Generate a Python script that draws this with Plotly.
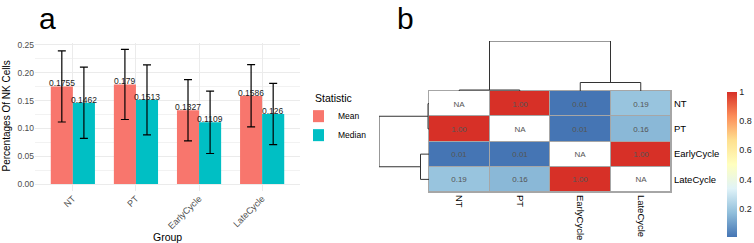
import plotly.graph_objects as go

W, H = 754, 243
FONT = "Liberation Sans, Arial, Helvetica, sans-serif"

# ---------------- data: panel a ----------------
groups = ["NT", "PT", "EarlyCycle", "LateCycle"]
mean_vals = [0.1755, 0.179, 0.1327, 0.1586]
median_vals = [0.1462, 0.1513, 0.1109, 0.126]
mean_err = [0.064, 0.063, 0.055, 0.056]
median_err = [0.064, 0.063, 0.056, 0.055]
y_ticks = [0.00, 0.05, 0.10, 0.15, 0.20, 0.25]

# ---------------- data: panel b ----------------
hm_labels = ["NT", "PT", "EarlyCycle", "LateCycle"]
hm_values = [
    [None, 1.00, 0.01, 0.19],
    [1.00, None, 0.01, 0.16],
    [0.01, 0.01, None, 1.00],
    [0.19, 0.16, 1.00, None],
]
# dendrogram merges: (left node, right node, height); leaves 0..3, new nodes 4,5,...
dendro_merges = [(0, 1, 0.02), (2, 3, 0.17), (4, 5, 1.0)]
cbar_ticks = [0.2, 0.4, 0.6, 0.8, 1.0]
cbar_ticktext = ["0.2", "0.4", "0.6", "0.8", "1"]

rdylbu7 = ["#4575B4", "#91BFDB", "#E0F3F8", "#FFFFBF", "#FEE090", "#FC8D59", "#D73027"]
colorscale = [[i / 6, c] for i, c in enumerate(rdylbu7)]


def px_x(p):
    return p / W


def px_y(p):
    return 1 - p / H


fig = go.Figure()

# ---- bars ----
fig.add_trace(go.Bar(
    x=groups, y=mean_vals, name="Mean", marker=dict(color="#F8766D", line=dict(width=0)),
    error_y=dict(type="data", array=mean_err, color="black", thickness=1.2, width=4),
    xaxis="x", yaxis="y"))
fig.add_trace(go.Bar(
    x=groups, y=median_vals, name="Median", marker=dict(color="#00BFC4", line=dict(width=0)),
    error_y=dict(type="data", array=median_err, color="black", thickness=1.2, width=4),
    xaxis="x", yaxis="y"))

# value labels (placed at each bar top through the axes)
bar_labels = []
for vals, shift in ((mean_vals, -11), (median_vals, 11)):
    for g, v in zip(groups, vals):
        bar_labels.append(dict(
            x=g, y=v, xref="x", yref="y", text=str(v), showarrow=False,
            xanchor="center", yanchor="bottom", xshift=shift, yshift=-4,
            font=dict(size=8.5, color="#1a1a1a", family=FONT)))

# ---- heatmap (border layer, white layer, values) ----
n = len(hm_labels)
idx = list(range(n))
fig.add_trace(go.Heatmap(
    z=[[1] * n for _ in idx], x=idx, y=idx, colorscale=[[0, "#A6A6A6"], [1, "#A6A6A6"]],
    showscale=False, hoverinfo="skip", xaxis="x2", yaxis="y2"))
fig.add_trace(go.Heatmap(
    z=[[1] * n for _ in idx], x=idx, y=idx, colorscale=[[0, "white"], [1, "white"]],
    showscale=False, hoverinfo="skip", xgap=1, ygap=1, xaxis="x2", yaxis="y2"))
cell_text = [["NA" if v is None else f"{v:.2f}" for v in row] for row in hm_values]
fig.add_trace(go.Heatmap(
    z=hm_values, x=idx, y=idx, colorscale=colorscale, zmin=0.01, zmax=1.0,
    xgap=1, ygap=1, text=cell_text, texttemplate="%{text}",
    textfont=dict(size=8, color="#555555", family=FONT),
    colorbar=dict(
        x=px_x(727), xanchor="left", xpad=0, ypad=0,
        y=px_y(164.2), yanchor="middle", lenmode="pixels", len=145,
        thickness=10, outlinewidth=0, ticks="",
        tickvals=cbar_ticks, ticktext=cbar_ticktext,
        tickfont=dict(size=9, color="#222222", family=FONT)),
    xaxis="x2", yaxis="y2"))

# ---- dendrograms ----
def dendro_segments(merges, n_leaves):
    pos = {i: (float(i), 0.0) for i in range(n_leaves)}
    xs, hs = [], []
    nid = n_leaves
    for a, b, h in merges:
        (xa, ha), (xb, hb) = pos[a], pos[b]
        xs += [xa, xa, xb, xb, None]
        hs += [ha, h, h, hb, None]
        pos[nid] = ((xa + xb) / 2, h)
        nid += 1
    return xs, hs


dx, dh = dendro_segments(dendro_merges, n)
fig.add_trace(go.Scatter(x=dx, y=dh, mode="lines", line=dict(color="#333333", width=1),
                         hoverinfo="skip", showlegend=False, cliponaxis=False,
                         xaxis="x3", yaxis="y3"))
fig.add_trace(go.Scatter(x=dh, y=dx, mode="lines", line=dict(color="#333333", width=1),
                         hoverinfo="skip", showlegend=False, cliponaxis=False,
                         xaxis="x4", yaxis="y4"))

hidden = dict(visible=False, showgrid=False, zeroline=False, automargin=False)

fig.update_layout(
    width=W, height=H, autosize=False,
    margin=dict(l=0, r=0, t=0, b=0),
    paper_bgcolor="white", plot_bgcolor="white",
    font=dict(family=FONT, color="black"),
    barmode="group", bargap=0.3, bargroupgap=0,
    showlegend=True,
    legend=dict(
        x=px_x(313), xanchor="left", y=px_y(88), yanchor="top",
        title=dict(text="Statistic", font=dict(size=10.5, color="black", family=FONT)),
        font=dict(size=8.5, color="black", family=FONT), indentation=-15,
        bgcolor="rgba(0,0,0,0)", itemwidth=30, tracegroupgap=0),
    xaxis=dict(
        domain=[px_x(35), px_x(300)], range=[-0.6, 3.6], automargin=False,
        showgrid=True, gridcolor="#EBEBEB", gridwidth=1, zeroline=False,
        tickangle=-45, ticks="", tickfont=dict(size=9, color="#4D4D4D", family=FONT),
        showline=False),
    yaxis=dict(
        domain=[px_y(190.7), px_y(43.3)], range=[-0.012, 0.253], automargin=False,
        tickvals=y_ticks, tickformat=".2f", ticks="",
        showgrid=True, gridcolor="#EBEBEB", gridwidth=1, zeroline=False,
        minor=dict(dtick=0.025, tick0=0, showgrid=True, gridcolor="#F2F2F2", gridwidth=0.6),
        tickfont=dict(size=8.5, color="#4D4D4D", family=FONT), showline=False),
    xaxis2=dict(
        domain=[px_x(429), px_x(671)], range=[-0.5, 3.5], automargin=False,
        tickvals=idx, ticktext=hm_labels, tickangle=90, ticks="",
        tickfont=dict(size=9.5, color="black", family=FONT),
        showgrid=False, zeroline=False,
        showline=True, mirror=True, linecolor="#A6A6A6", linewidth=1, anchor="y2"),
    yaxis2=dict(
        domain=[px_y(192), px_y(91)], range=[3.5, -0.5], automargin=False,
        tickvals=idx, ticktext=hm_labels, side="right", ticks="",
        tickfont=dict(size=9.5, color="black", family=FONT),
        showgrid=False, zeroline=False,
        showline=True, mirror=True, linecolor="#A6A6A6", linewidth=1, anchor="x2"),
    xaxis3=dict(domain=[px_x(429), px_x(671)], range=[-0.5, 3.5], anchor="y3", **hidden),
    yaxis3=dict(domain=[px_y(91), px_y(41)], range=[0, 1.0], anchor="x3", **hidden),
    xaxis4=dict(domain=[px_x(379), px_x(429)], range=[1.0, 0], anchor="y4", **hidden),
    yaxis4=dict(domain=[px_y(192), px_y(91)], range=[3.5, -0.5], anchor="x4", **hidden),
    annotations=bar_labels + [
        dict(text="a", x=px_x(37), y=px_y(19), xref="paper", yref="paper",
             xanchor="left", yanchor="middle", showarrow=False,
             font=dict(size=30, color="black", family=FONT)),
        dict(text="b", x=px_x(395), y=px_y(19), xref="paper", yref="paper",
             xanchor="left", yanchor="middle", showarrow=False,
             font=dict(size=30, color="black", family=FONT)),
        dict(text="Group", x=px_x(167.5), y=px_y(237.3), xref="paper", yref="paper",
             xanchor="center", yanchor="middle", showarrow=False,
             font=dict(size=10.5, color="black", family=FONT)),
        dict(text="Percentages Of NK Cells", x=px_x(6), y=px_y(116.5), xref="paper",
             yref="paper", xanchor="center", yanchor="middle", textangle=-90,
             showarrow=False, font=dict(size=10, color="black", family=FONT)),
    ],
)

fig.write_html("out.html", config={"displayModeBar": False},
               post_script="document.body.style.margin='0';document.body.style.padding='0';")
